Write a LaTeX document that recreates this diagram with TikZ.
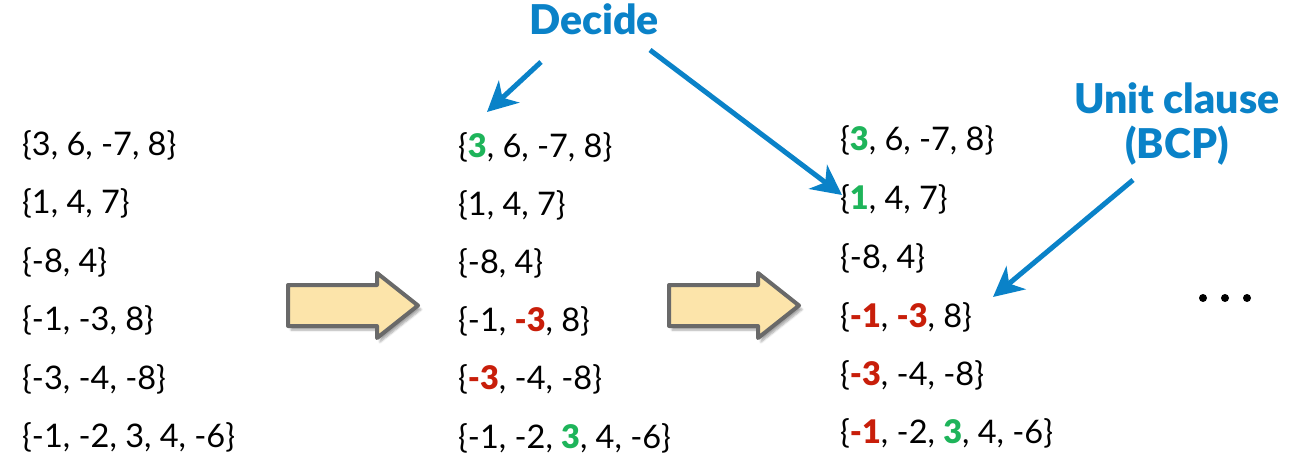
\documentclass[tikz,border=0pt]{standalone}
\usepackage{fontspec}
\setmainfont{Lato}[BoldFont={Lato Black}]
\usetikzlibrary{arrows.meta,shadows.blur}
\definecolor{cblue}{RGB}{10,130,200}
\definecolor{cgreen}{RGB}{30,180,90}
\definecolor{cred}{RGB}{200,30,10}
\definecolor{cyel}{RGB}{252,228,170}
\definecolor{cgray}{RGB}{105,105,105}
\newcommand\G[1]{\textbf{\textcolor{cgreen}{#1}}}
\newcommand\R[1]{\textbf{\textcolor{cred}{#1}}}
\begin{document}
\begin{tikzpicture}[x=1pt,y=-1pt,
  clause/.style={anchor=base west, inner sep=0pt, font=\fontsize{32.5}{38}\selectfont},
  label/.style={inner sep=0pt, text=cblue, font=\fontsize{41}{45}\selectfont\bfseries, align=center},
  pointer/.style={draw=cblue, line width=5pt, -{Stealth[length=30pt,width=30pt,inset=9pt]}},
  blockarrow/.style={fill=cyel, draw=cgray, line width=4pt, line join=round,
     blur shadow={shadow xshift=3pt, shadow yshift=-4pt, shadow blur steps=6, shadow opacity=35}}
]
\useasboundingbox (0,0) rectangle (1312,460);

% left column
\node[clause] (l1) at (22,155) {\{3, 6, -7, 8\}};
\node[clause] (l2) at (22,213) {\{1, 4, 7\}};
\node[clause] (l3) at (22,272) {\{-8, 4\}};
\node[clause] (l4) at (22,330) {\{-1, -3, 8\}};
\node[clause] (l5) at (22,389) {\{-3, -4, -8\}};
\node[clause] (l6) at (22,447) {\{-1, -2, 3, 4, -6\}};

% middle column
\node[clause] (m1) at (458,157) {\{\G{3}, 6, -7, 8\}};
\node[clause] (m2) at (458,215) {\{1, 4, 7\}};
\node[clause] (m3) at (458,273) {\{-8, 4\}};
\node[clause] (m4) at (458,331) {\{-1, \R{-3}, 8\}};
\node[clause] (m5) at (458,389) {\{\R{-3}, -4, -8\}};
\node[clause] (m6) at (458,448) {\{-1, -2, \G{3}, 4, -6\}};

% right column
\node[clause] (r1) at (840,150) {\{\G{3}, 6, -7, 8\}};
\node[clause] (r2) at (840,209) {\{\G{1}, 4, 7\}};
\node[clause] (r3) at (840,268) {\{-8, 4\}};
\node[clause] (r4) at (840,327) {\{\R{-1}, \R{-3}, 8\}};
\node[clause] (r5) at (840,385) {\{\R{-3}, -4, -8\}};
\node[clause] (r6) at (840,443) {\{\R{-1}, -2, \G{3}, 4, -6\}};

% block arrows
\path[blockarrow] (288,285) -- (377,285) -- (377,273) -- (418,305.5) -- (377,338) -- (377,326) -- (288,326) -- cycle;
\path[blockarrow] (669,285) -- (758,285) -- (758,273) -- (799,305.5) -- (758,338) -- (758,326) -- (669,326) -- cycle;

% labels
\node[label, anchor=base] (decide) at (594,35) {Decide};
\node[label, anchor=base] (unit) at (1177,158) {Unit clause\\(BCP)};

% pointers
\coordinate (d1s) at (541,62);
\coordinate (d1e) at (487,112);
\coordinate (d2s) at (650,50);
\coordinate (d2e) at (842,195);
\coordinate (u1s) at (1133,180);
\coordinate (u1e) at (993,297);
\draw[pointer] (d1s) -- (d1e);
\draw[pointer] (d2s) -- (d2e);
\draw[pointer] (u1s) -- (u1e);

% ellipsis
\fill (1203,298) circle (4pt) (1225,298) circle (4pt) (1247,298) circle (4pt);
\end{tikzpicture}
\end{document}
